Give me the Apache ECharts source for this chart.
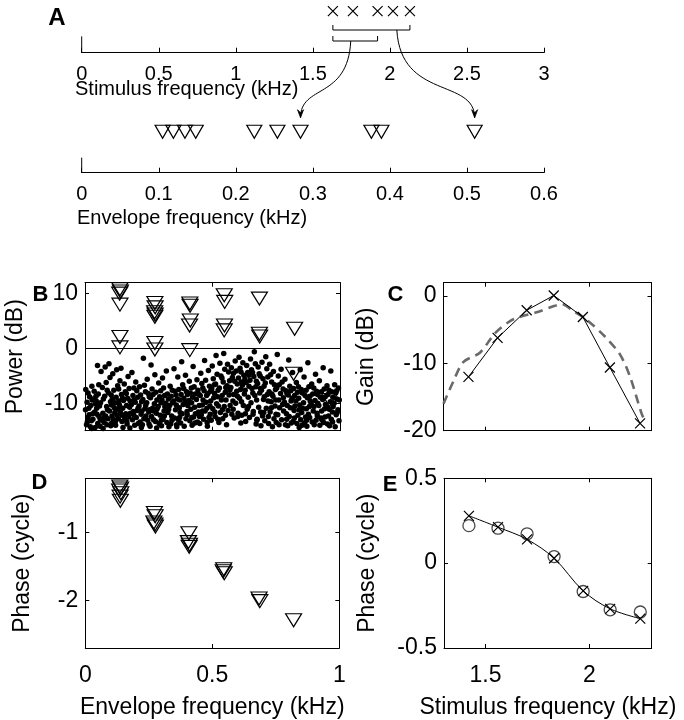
<!DOCTYPE html>
<html>
<head>
<meta charset="utf-8">
<script src="https://cdn.jsdelivr.net/npm/echarts@6.0.0/dist/echarts.min.js"></script>
<style>
  html, body { margin: 0; padding: 0; background: #fff; }
  #fig { width: 684px; height: 720px; }
</style>
</head>
<body>
<div id="fig"></div>
<script>
// ---- data ----
// panel A: stimulus tones (kHz) and their envelope (difference) frequencies (kHz)
var stimA = [1.63, 1.76, 1.92, 2.02, 2.13];
var envA = [0.105, 0.119, 0.134, 0.148, 0.224, 0.254, 0.284, 0.376, 0.389, 0.51];

// panel B: envelope power (dB) at envelope frequencies (kHz), triangles
var powerTri = [
  [0.137, 10.8], [0.139, 10.4], [0.136, 10.0], [0.137, 8.0], [0.137, 2.1], [0.137, 0.2],
  [0.274, 8.3], [0.275, 7.5], [0.273, 6.6], [0.275, 6.2], [0.274, 5.8], [0.274, 1.0], [0.274, -0.2],
  [0.411, 8.2], [0.412, 7.8], [0.413, 5.1], [0.410, 4.2], [0.411, -0.3],
  [0.546, 9.7], [0.548, 8.5], [0.547, 4.2], [0.546, 3.3],
  [0.684, 9.1], [0.684, 2.7], [0.685, 2.2],
  [0.822, 3.6], [0.818, -4.6], [0.959, -9.4]
];
// panel B: noise floor (kHz, dB)
var noiseDots = [
  [0.003,-7.5],[0.008,-9.8],[0.002,-11.2],[0.011,-12.6],[0.006,-13.9],
  [0.018,-8.8],[0.023,-10.4],[0.016,-12.1],[0.025,-13.2],[0.021,-14.3],[0.027,-6.9],
  [0.033,-9.2],[0.038,-11.6],[0.031,-12.9],[0.041,-10.1],[0.036,-7.8],
  [0.049,-3.1],[0.052,-8.3],[0.046,-10.9],[0.055,-12.4],[0.05,-13.7],[0.044,-9.6],
  [0.063,-4.2],[0.068,-7.1],[0.061,-9.9],[0.07,-11.8],[0.066,-13.1],[0.059,-14.2],
  [0.079,-3.4],[0.083,-6.2],[0.077,-8.7],[0.085,-10.6],[0.081,-12.3],[0.075,-13.5],
  [0.094,-2.8],[0.098,-5.3],[0.092,-8.1],[0.1,-9.7],[0.096,-11.4],[0.09,-12.8],[0.101,-14.1],
  [0.109,-4.6],[0.113,-7.6],[0.107,-9.2],[0.115,-10.8],[0.111,-12.9],[0.105,-13.6],
  [0.124,-3.9],[0.128,-6.8],[0.122,-8.9],[0.13,-11.1],[0.126,-12.2],[0.12,-14.0],
  [0.141,-3.6],[0.137,-5.9],[0.143,-8.4],[0.135,-10.3],[0.139,-11.7],[0.145,-13.3],
  [0.154,-6.5],[0.158,-7.9],[0.151,-9.5],[0.16,-11.9],[0.156,-12.7],[0.149,-14.4],
  [0.169,-5.1],[0.173,-7.3],[0.167,-9.1],[0.175,-10.7],[0.171,-12.5],[0.165,-13.8],
  [0.184,-4.4],[0.188,-8.6],[0.182,-10.2],[0.19,-11.5],[0.186,-13.0],
  [0.199,-6.1],[0.203,-7.7],[0.197,-9.8],[0.205,-11.3],[0.201,-12.6],[0.195,-14.0],
  [0.214,-7.0],[0.218,-8.5],[0.212,-10.5],[0.22,-12.0],[0.216,-13.4],
  [0.229,-1.8],[0.233,-6.7],[0.227,-9.3],[0.235,-11.0],[0.231,-12.8],[0.225,-13.9],
  [0.244,-5.6],[0.248,-8.2],[0.242,-9.9],[0.25,-11.6],[0.246,-13.1],
  [0.259,-3.0],[0.263,-7.4],[0.257,-9.0],[0.265,-10.9],[0.261,-12.4],[0.255,-14.2],
  [0.274,-4.8],[0.278,-8.0],[0.272,-10.1],[0.28,-11.8],[0.276,-13.3],
  [0.289,-6.3],[0.293,-8.8],[0.287,-10.6],[0.295,-12.2],[0.291,-13.7],
  [0.304,-5.4],[0.308,-7.2],[0.302,-9.4],[0.31,-11.4],[0.306,-12.9],[0.3,-14.1],
  [0.319,-4.1],[0.323,-8.3],[0.317,-10.0],[0.325,-11.7],[0.321,-13.5],
  [0.334,-6.9],[0.338,-8.7],[0.332,-10.4],[0.34,-12.3],[0.336,-13.8],
  [0.349,-3.7],[0.353,-7.8],[0.347,-9.6],[0.355,-11.2],[0.351,-12.7],
  [0.364,-5.2],[0.368,-7.5],[0.362,-9.2],[0.37,-10.8],[0.366,-13.0],[0.36,-14.3],
  [0.379,-2.4],[0.383,-6.6],[0.377,-8.4],[0.385,-10.2],[0.381,-11.9],[0.375,-13.6],
  [0.394,-4.9],[0.398,-7.9],[0.392,-9.7],[0.4,-11.5],[0.396,-12.8],
  [0.409,-6.0],[0.413,-8.1],[0.407,-9.5],[0.415,-11.1],[0.411,-13.2],
  [0.424,-3.3],[0.428,-7.0],[0.422,-8.9],[0.43,-10.7],[0.426,-12.5],[0.42,-14.0],
  [0.439,-5.7],[0.443,-7.6],[0.437,-9.3],[0.445,-11.6],[0.441,-13.4],
  [0.454,-4.5],[0.458,-6.4],[0.452,-8.6],[0.46,-10.3],[0.456,-12.1],[0.45,-13.7],
  [0.469,-2.2],[0.473,-5.8],[0.467,-7.7],[0.475,-9.8],[0.471,-11.4],[0.465,-12.9],
  [0.484,-4.0],[0.488,-6.9],[0.482,-8.2],[0.49,-10.5],[0.486,-12.6],[0.48,-14.2],
  [0.499,-3.2],[0.503,-5.5],[0.497,-7.4],[0.505,-9.0],[0.501,-11.0],[0.495,-13.1],
  [0.514,-1.3],[0.518,-4.7],[0.512,-6.5],[0.52,-8.8],[0.516,-10.1],[0.51,-12.4],
  [0.529,-2.7],[0.533,-5.0],[0.527,-7.2],[0.535,-9.4],[0.531,-11.7],[0.525,-13.5],
  [0.544,-0.9],[0.548,-3.8],[0.542,-6.1],[0.55,-8.0],[0.546,-10.6],[0.54,-12.8],
  [0.559,-2.9],[0.563,-4.3],[0.557,-6.8],[0.565,-8.5],[0.561,-11.3],[0.555,-13.9],
  [0.574,-3.5],[0.578,-5.3],[0.572,-7.1],[0.58,-9.6],[0.576,-12.0],
  [0.589,-2.3],[0.593,-4.1],[0.587,-6.0],[0.595,-7.8],[0.591,-10.0],[0.585,-12.7],
  [0.604,-1.6],[0.608,-3.6],[0.602,-5.4],[0.61,-7.5],[0.606,-9.1],[0.6,-11.8],[0.611,-13.6],
  [0.619,-2.6],[0.623,-4.9],[0.617,-6.7],[0.625,-8.3],[0.621,-10.4],[0.615,-12.2],
  [0.634,-3.1],[0.638,-4.4],[0.632,-6.2],[0.64,-8.9],[0.636,-11.1],[0.63,-13.3],
  [0.649,-1.9],[0.653,-3.9],[0.647,-5.8],[0.655,-7.3],[0.651,-9.9],[0.645,-12.6],
  [0.664,-0.6],[0.668,-2.8],[0.662,-5.1],[0.67,-7.0],[0.666,-8.6],[0.66,-11.5],[0.671,-13.8],
  [0.679,-3.4],[0.683,-4.6],[0.677,-6.4],[0.685,-8.1],[0.681,-10.7],[0.675,-12.9],
  [0.694,-2.5],[0.698,-5.5],[0.692,-7.6],[0.7,-9.3],[0.696,-12.3],[0.69,-14.1],
  [0.709,-1.5],[0.713,-3.7],[0.707,-6.3],[0.715,-8.4],[0.711,-10.9],[0.705,-13.2],
  [0.724,-2.9],[0.728,-4.8],[0.722,-7.9],[0.73,-9.7],[0.726,-11.6],[0.72,-13.7],
  [0.739,-4.2],[0.743,-6.6],[0.737,-8.7],[0.745,-10.5],[0.741,-12.8],[0.735,-14.3],
  [0.754,-1.1],[0.758,-5.0],[0.752,-7.2],[0.76,-9.4],[0.756,-12.1],[0.75,-13.5],
  [0.769,-3.8],[0.773,-6.1],[0.767,-8.2],[0.775,-10.2],[0.771,-13.0],
  [0.784,-5.6],[0.788,-7.7],[0.782,-9.8],[0.79,-11.9],[0.786,-13.9],
  [0.799,-2.1],[0.803,-6.9],[0.797,-8.5],[0.805,-10.8],[0.801,-12.4],[0.795,-14.1],
  [0.814,-4.4],[0.818,-7.3],[0.812,-9.1],[0.82,-11.3],[0.816,-13.3],
  [0.829,-6.2],[0.833,-8.0],[0.827,-9.6],[0.835,-12.2],[0.831,-13.7],
  [0.844,-3.9],[0.848,-7.5],[0.842,-10.3],[0.85,-11.7],[0.846,-13.0],[0.84,-14.4],
  [0.859,-5.2],[0.863,-8.6],[0.857,-9.9],[0.865,-12.5],[0.861,-13.6],
  [0.874,-2.6],[0.878,-7.0],[0.872,-9.0],[0.88,-10.6],[0.876,-12.0],[0.87,-14.2],
  [0.889,-6.5],[0.893,-8.3],[0.887,-10.1],[0.895,-11.4],[0.891,-13.4],
  [0.904,-4.7],[0.908,-7.8],[0.902,-9.5],[0.91,-11.8],[0.906,-13.1],
  [0.919,-5.9],[0.923,-8.9],[0.917,-10.4],[0.925,-12.7],[0.921,-14.0],
  [0.934,-3.5],[0.938,-7.4],[0.932,-9.3],[0.94,-11.0],[0.936,-13.5],
  [0.949,-6.8],[0.953,-8.4],[0.947,-10.7],[0.955,-12.3],[0.951,-13.8],
  [0.964,-4.1],[0.968,-7.9],[0.962,-9.7],[0.97,-11.6],[0.966,-12.9],
  [0.979,-6.6],[0.983,-8.1],[0.977,-10.0],[0.985,-12.1],[0.981,-14.3],
  [0.994,-7.2],[0.997,-9.4],[0.992,-11.2],[0.996,-13.2]
];
// panel B: more of the dense band of the noise floor (kHz, dB)
var noiseBand = [
  [0.012,-8.1],[0.015,-10.9],[0.009,-13.4],[0.028,-9.4],[0.03,-11.9],[0.026,-14.6],
  [0.043,-8.7],[0.047,-12.0],[0.04,-14.4],[0.057,-10.5],[0.06,-12.9],[0.054,-6.6],
  [0.072,-9.2],[0.074,-12.7],[0.071,-14.6],[0.087,-7.6],[0.088,-11.2],[0.086,-13.9],
  [0.103,-8.5],[0.104,-10.3],[0.106,-12.3],[0.118,-9.9],[0.117,-11.7],[0.119,-13.3],
  [0.132,-7.4],[0.133,-9.6],[0.131,-12.8],[0.147,-9.1],[0.148,-10.9],[0.146,-12.2],
  [0.162,-8.2],[0.163,-10.4],[0.164,-13.3],[0.177,-9.6],[0.178,-11.8],[0.176,-14.5],
  [0.192,-7.2],[0.193,-9.4],[0.191,-12.1],[0.207,-8.9],[0.208,-10.9],[0.209,-13.7],
  [0.222,-9.7],[0.223,-11.4],[0.221,-14.4],[0.237,-7.9],[0.238,-10.4],[0.239,-12.3],
  [0.252,-8.8],[0.253,-11.2],[0.251,-13.8],[0.267,-8.4],[0.268,-11.4],[0.269,-13.0],
  [0.282,-9.4],[0.283,-11.0],[0.281,-14.5],[0.297,-7.7],[0.298,-9.9],[0.299,-13.1],
  [0.312,-8.6],[0.313,-10.6],[0.311,-12.3],[0.327,-9.2],[0.328,-11.1],[0.329,-14.3],
  [0.342,-7.6],[0.343,-9.9],[0.341,-13.1],[0.357,-8.5],[0.358,-10.3],[0.359,-13.9],
  [0.372,-9.4],[0.373,-11.7],[0.371,-12.6],[0.387,-7.3],[0.388,-9.1],[0.389,-14.2],
  [0.402,-8.4],[0.403,-10.4],[0.401,-12.1],[0.417,-7.2],[0.418,-9.9],[0.419,-12.6],
  [0.432,-8.3],[0.433,-11.9],[0.431,-13.6],[0.447,-8.4],[0.448,-10.4],[0.449,-12.4],
  [0.462,-7.2],[0.463,-9.4],[0.461,-11.4],[0.477,-8.6],[0.478,-10.9],[0.479,-13.5],
  [0.492,-7.8],[0.493,-9.6],[0.491,-12.0],[0.507,-6.6],[0.508,-8.2],[0.509,-11.6],
  [0.522,-7.6],[0.523,-10.5],[0.521,-12.9],[0.537,-5.4],[0.538,-8.6],[0.539,-11.2],
  [0.552,-7.1],[0.553,-9.4],[0.551,-12.2],[0.567,-5.9],[0.568,-7.6],[0.569,-10.4],
  [0.582,-4.5],[0.583,-8.4],[0.581,-11.1],[0.597,-6.5],[0.598,-8.7],[0.599,-12.4],
  [0.612,-4.3],[0.613,-6.1],[0.614,-9.7],[0.627,-5.6],[0.628,-7.6],[0.629,-11.9],
  [0.642,-4.9],[0.643,-6.9],[0.641,-10.6],[0.657,-4.4],[0.658,-8.1],[0.659,-12.0],
  [0.672,-6.0],[0.673,-9.4],[0.674,-13.1],[0.687,-5.0],[0.688,-7.3],[0.689,-11.6],
  [0.702,-6.9],[0.703,-8.8],[0.701,-11.7],[0.717,-5.2],[0.718,-9.6],[0.719,-12.4],
  [0.732,-6.1],[0.733,-8.3],[0.731,-10.8],[0.747,-7.5],[0.748,-9.4],[0.749,-12.0],
  [0.762,-6.6],[0.763,-10.8],[0.761,-13.9],[0.777,-7.4],[0.778,-9.0],[0.779,-11.4],
  [0.792,-8.2],[0.793,-10.4],[0.791,-12.9],[0.807,-7.7],[0.808,-9.6],[0.809,-13.6],
  [0.822,-8.6],[0.823,-10.5],[0.821,-12.7],[0.837,-7.0],[0.838,-9.1],[0.839,-11.2],
  [0.852,-8.1],[0.853,-10.9],[0.851,-14.0],[0.867,-7.6],[0.868,-11.0],[0.869,-13.1],
  [0.882,-8.7],[0.883,-9.6],[0.881,-12.6],[0.897,-7.2],[0.898,-10.6],[0.899,-13.9],
  [0.912,-8.4],[0.913,-10.0],[0.911,-12.3],[0.927,-7.9],[0.928,-11.4],[0.929,-13.0],
  [0.942,-8.8],[0.943,-10.2],[0.941,-12.5],[0.957,-7.6],[0.958,-11.1],[0.959,-14.1],
  [0.972,-8.9],[0.973,-10.6],[0.971,-13.4],[0.987,-7.7],[0.988,-9.2],[0.989,-11.7]
];

// panels C and E: stimulus frequencies (kHz)
var stimFreq = [1.42, 1.56, 1.70, 1.83, 1.97, 2.10, 2.245];
// panel C: measured gain (dB) and model (dashed)
var gainMeas = [-12.0, -6.2, -2.1, 0.1, -3.1, -10.6, -18.9];
var gainModel = [
  [1.30, -16.0], [1.347, -12.7], [1.395, -9.8], [1.475, -8.4], [1.548, -5.5], [1.62, -3.7],
  [1.676, -3.0], [1.748, -2.4], [1.828, -1.5], [1.868, -1.2], [1.924, -2.2], [1.988, -3.5],
  [2.076, -6.0], [2.149, -8.7], [2.197, -12.0], [2.253, -17.5], [2.27, -18.6]
];

// panel D: envelope phase (cycle) vs envelope frequency (kHz)
var phaseTri = [
  [0.136, -0.32], [0.139, -0.35], [0.135, -0.38], [0.140, -0.42], [0.137, -0.47], [0.138, -0.53],
  [0.272, -0.71], [0.275, -0.76], [0.270, -0.85], [0.274, -0.88], [0.276, -0.91],
  [0.408, -1.01], [0.406, -1.14], [0.410, -1.18], [0.409, -1.21],
  [0.545, -1.54], [0.543, -1.57], [0.547, -1.60],
  [0.684, -1.97], [0.687, -2.01],
  [0.820, -2.29]
];

// panel E: phase (cycle) vs stimulus frequency
var phaseCross = [0.279, 0.212, 0.140, 0.029, -0.163, -0.269, -0.327];
var phaseCircle = [0.221, 0.206, 0.173, 0.039, -0.167, -0.275, -0.288];

// ---- chart ----
var FONT = 'Liberation Sans, Arial, Helvetica, sans-serif';
var BLACK = '#000';
var myChart = echarts.init(document.getElementById('fig'), null, {renderer: 'canvas'});

var crossPath = 'path://M0,0L10,10M10,0L0,10';

function boxX(grid, min, max, ticks, pos, showLabel, name, gap){
  return {
    type: 'value', gridIndex: grid, position: pos, min: min, max: max,
    axisLine: {show: true, onZero: false, lineStyle: {color: BLACK, width: 1}},
    axisTick: {show: true, inside: true, length: 4, customValues: ticks, lineStyle: {color: BLACK}},
    axisLabel: {show: showLabel, customValues: ticks, color: BLACK, fontSize: 23, fontFamily: FONT, margin: 16},
    splitLine: {show: false},
    name: name || '', nameLocation: 'middle', nameGap: gap || 0,
    nameTextStyle: {color: BLACK, fontSize: 23, fontFamily: FONT}
  };
}
function boxY(grid, min, max, ticks, pos, showLabel, name, gap){
  return {
    type: 'value', gridIndex: grid, position: pos, min: min, max: max,
    axisLine: {show: true, onZero: false, lineStyle: {color: BLACK, width: 1}},
    axisTick: {show: true, inside: true, length: 4, customValues: ticks, lineStyle: {color: BLACK}},
    axisLabel: {show: showLabel, customValues: ticks, color: BLACK, fontSize: 23, fontFamily: FONT, margin: 7},
    splitLine: {show: false},
    name: name || '', nameLocation: 'middle', nameGap: gap || 0, nameRotate: 90,
    nameTextStyle: {color: BLACK, fontSize: 23, fontFamily: FONT}
  };
}
function lineX(grid, max, step){
  return {
    type: 'value', gridIndex: grid, position: 'bottom', min: 0, max: max, interval: step,
    axisLine: {show: true, onZero: false, lineStyle: {color: BLACK, width: 1}},
    axisTick: {show: true, inside: true, length: 5, lineStyle: {color: BLACK}},
    axisLabel: {color: BLACK, fontSize: 20, fontFamily: FONT, margin: 12, showMinLabel: true, showMaxLabel: true},
    splitLine: {show: false}
  };
}
function hiddenY(grid){
  return {type: 'value', gridIndex: grid, min: 0, max: 1, show: false};
}

var triStyle = {color: 'rgba(0,0,0,0)', borderColor: BLACK, borderWidth: 1.2, opacity: 1};
var crossStyle = {color: 'rgba(0,0,0,0)', borderColor: BLACK, borderWidth: 1.2, opacity: 1};

// vertical positions inside panel A strips (fraction of strip height)
var crossRow = 0.79, triRow = 0.654;

var option = {
  animation: false,
  backgroundColor: '#fff',
  grid: [
    {left: 81.7, top: 0, width: 462.3, height: 52.7},
    {left: 81.7, top: 110, width: 462.3, height: 62.7},
    {left: 85, top: 282.7, width: 255, height: 148},
    {left: 443.5, top: 282.7, width: 208, height: 148},
    {left: 85.3, top: 478.3, width: 254, height: 172.7},
    {left: 444, top: 478.3, width: 207.7, height: 172.7}
  ],
  xAxis: [
    lineX(0, 3, 0.5),
    lineX(1, 0.6, 0.1),
    boxX(2, 0, 1, [0, 0.5, 1], 'bottom', false),
    boxX(2, 0, 1, [0, 0.5, 1], 'top', false),
    boxX(3, 1.3, 2.3, [1.5, 2], 'bottom', false),
    boxX(3, 1.3, 2.3, [1.5, 2], 'top', false),
    boxX(4, 0, 1, [0, 0.5, 1], 'bottom', true, 'Envelope frequency (kHz)', 48),
    boxX(4, 0, 1, [0, 0.5, 1], 'top', false),
    boxX(5, 1.3, 2.3, [1.5, 2], 'bottom', true, 'Stimulus frequency (kHz)', 48),
    boxX(5, 1.3, 2.3, [1.5, 2], 'top', false)
  ],
  yAxis: [
    hiddenY(0),
    hiddenY(1),
    boxY(2, -15, 12, [-10, 0, 10], 'left', true, 'Power (dB)', 58),
    boxY(2, -15, 12, [-10, 0, 10], 'right', false),
    boxY(3, -20, 2, [-20, -10, 0], 'left', true, 'Gain (dB)', 65),
    boxY(3, -20, 2, [-20, -10, 0], 'right', false),
    boxY(4, -2.7, -0.2, [-2, -1], 'left', true, 'Phase (cycle)', 51),
    boxY(4, -2.7, -0.2, [-2, -1], 'right', false),
    boxY(5, -0.5, 0.5, [-0.5, 0, 0.5], 'left', true, 'Phase (cycle)', 65),
    boxY(5, -0.5, 0.5, [-0.5, 0, 0.5], 'right', false)
  ],
  series: [
    // A: stimulus tones
    {type: 'scatter', xAxisIndex: 0, yAxisIndex: 0, symbol: crossPath, symbolSize: 10,
     itemStyle: crossStyle, data: stimA.map(function(f){ return [f, crossRow]; })},
    {type: 'line', xAxisIndex: 0, yAxisIndex: 0, symbol: 'none', silent: true,
     lineStyle: {color: BLACK, width: 1}, data: [[0, 0], [0, 0.31]]},
    // A: envelope frequencies
    {type: 'scatter', xAxisIndex: 1, yAxisIndex: 1, symbol: 'triangle', symbolRotate: 180, symbolSize: [15, 13],
     itemStyle: triStyle, data: envA.map(function(f){ return [f, triRow]; })},
    {type: 'line', xAxisIndex: 1, yAxisIndex: 1, symbol: 'none', silent: true,
     lineStyle: {color: BLACK, width: 1}, data: [[0, 0], [0, 0.24]]},
    // B: noise dots + zero line
    {type: 'scatter', xAxisIndex: 2, yAxisIndex: 2, symbol: 'circle', symbolSize: 5.5,
     itemStyle: {color: BLACK, opacity: 1}, data: noiseDots.concat(noiseBand),
     markLine: {silent: true, symbol: 'none', label: {show: false},
       lineStyle: {color: BLACK, type: 'solid', width: 1}, data: [{yAxis: 0}]}},
    {type: 'scatter', xAxisIndex: 2, yAxisIndex: 2, symbol: 'triangle', symbolRotate: 180, symbolSize: [16, 13],
     itemStyle: triStyle, data: powerTri},
    // C: model (dashed) and measured gain
    {type: 'line', xAxisIndex: 4, yAxisIndex: 4, symbol: 'none', smooth: 0.3,
     lineStyle: {color: '#6a6a6a', width: 2.6, type: [9, 6]}, data: gainModel},
    {type: 'line', xAxisIndex: 4, yAxisIndex: 4, symbol: crossPath, symbolSize: 10, showSymbol: true,
     itemStyle: crossStyle, lineStyle: {color: BLACK, width: 1},
     data: stimFreq.map(function(f, i){ return [f, gainMeas[i]]; })},
    // D: envelope phase
    {type: 'scatter', xAxisIndex: 6, yAxisIndex: 6, symbol: 'triangle', symbolRotate: 180, symbolSize: [16, 13],
     itemStyle: triStyle, data: phaseTri},
    // E: phase vs stimulus frequency
    {type: 'line', xAxisIndex: 8, yAxisIndex: 8, symbol: crossPath, symbolSize: 10, smooth: 0.35,
     itemStyle: crossStyle, lineStyle: {color: BLACK, width: 1},
     data: stimFreq.map(function(f, i){ return [f, phaseCross[i]]; })},
    {type: 'scatter', xAxisIndex: 8, yAxisIndex: 8, symbol: 'circle', symbolSize: 12,
     itemStyle: {color: 'rgba(0,0,0,0)', borderColor: '#4a4a4a', borderWidth: 1.3, opacity: 1},
     data: stimFreq.map(function(f, i){ return [f, phaseCircle[i]]; })}
  ]
};
myChart.setOption(option);

// ---- annotations in panel A (brackets, arrows) placed through the axes ----
function px(xi, yi, v){ return myChart.convertToPixel({xAxisIndex: xi, yAxisIndex: yi}, v); }
var b0 = px(0, 0, [stimA[0], 0])[0];
var b2 = px(0, 0, [stimA[2], 0])[0];
var b4 = px(0, 0, [stimA[4], 0])[0];
var triTop = px(1, 1, [0, triRow])[1] - 7;
var tipL = px(1, 1, [envA[6], triRow])[0];
var tipR = px(1, 1, [envA[9], triRow])[0];
var tipY = triTop - 7;
var upY = 30, loY = 41;
var startL = b0 + 0.4 * (b2 - b0);
var startR = b0 + 0.83 * (b4 - b0);

function txt(x, y, s, size, bold, align){
  return {type: 'text', x: x, y: y, silent: true,
    style: {text: s, fill: BLACK, font: (bold ? 'bold ' : '') + size + 'px ' + FONT,
      textAlign: align || 'center', textVerticalAlign: 'middle'}};
}
var stroke = {stroke: BLACK, lineWidth: 1, fill: null};

myChart.setOption({
  graphic: [
    {type: 'polyline', silent: true, shape: {points: [[b0, upY - 5], [b0, upY], [b4, upY], [b4, upY - 5]]}, style: stroke},
    {type: 'polyline', silent: true, shape: {points: [[b0, loY - 5], [b0, loY], [b2, loY], [b2, loY - 5]]}, style: stroke},
    {type: 'bezierCurve', silent: true,
     shape: {x1: startL, y1: loY, cpx1: startL - 3, cpy1: 100, cpx2: tipL, cpy2: 84, x2: tipL, y2: tipY}, style: stroke},
    {type: 'bezierCurve', silent: true,
     shape: {x1: startR, y1: upY, cpx1: startR + 4, cpy1: 100, cpx2: tipR, cpy2: 78, x2: tipR, y2: tipY}, style: stroke},
    {type: 'polygon', silent: true, shape: {points: [[tipL - 3, tipY - 8], [tipL, tipY], [tipL + 3, tipY - 8], [tipL, tipY - 5]]}, style: {fill: BLACK, stroke: BLACK, lineWidth: 0.8}},
    {type: 'polygon', silent: true, shape: {points: [[tipR - 3, tipY - 8], [tipR, tipY], [tipR + 3, tipY - 8], [tipR, tipY - 5]]}, style: {fill: BLACK, stroke: BLACK, lineWidth: 0.8}},
    txt(75, 89, 'Stimulus frequency (kHz)', 20, false, 'left'),
    txt(77, 218, 'Envelope frequency (kHz)', 20, false, 'left'),
    txt(57, 18, 'A', 24, true),
    txt(40.5, 294.5, 'B', 22, true),
    txt(395.5, 294.5, 'C', 22, true),
    txt(39.5, 482.5, 'D', 22, true),
    txt(390, 485, 'E', 22, true)
  ]
});
</script>
</body>
</html>
